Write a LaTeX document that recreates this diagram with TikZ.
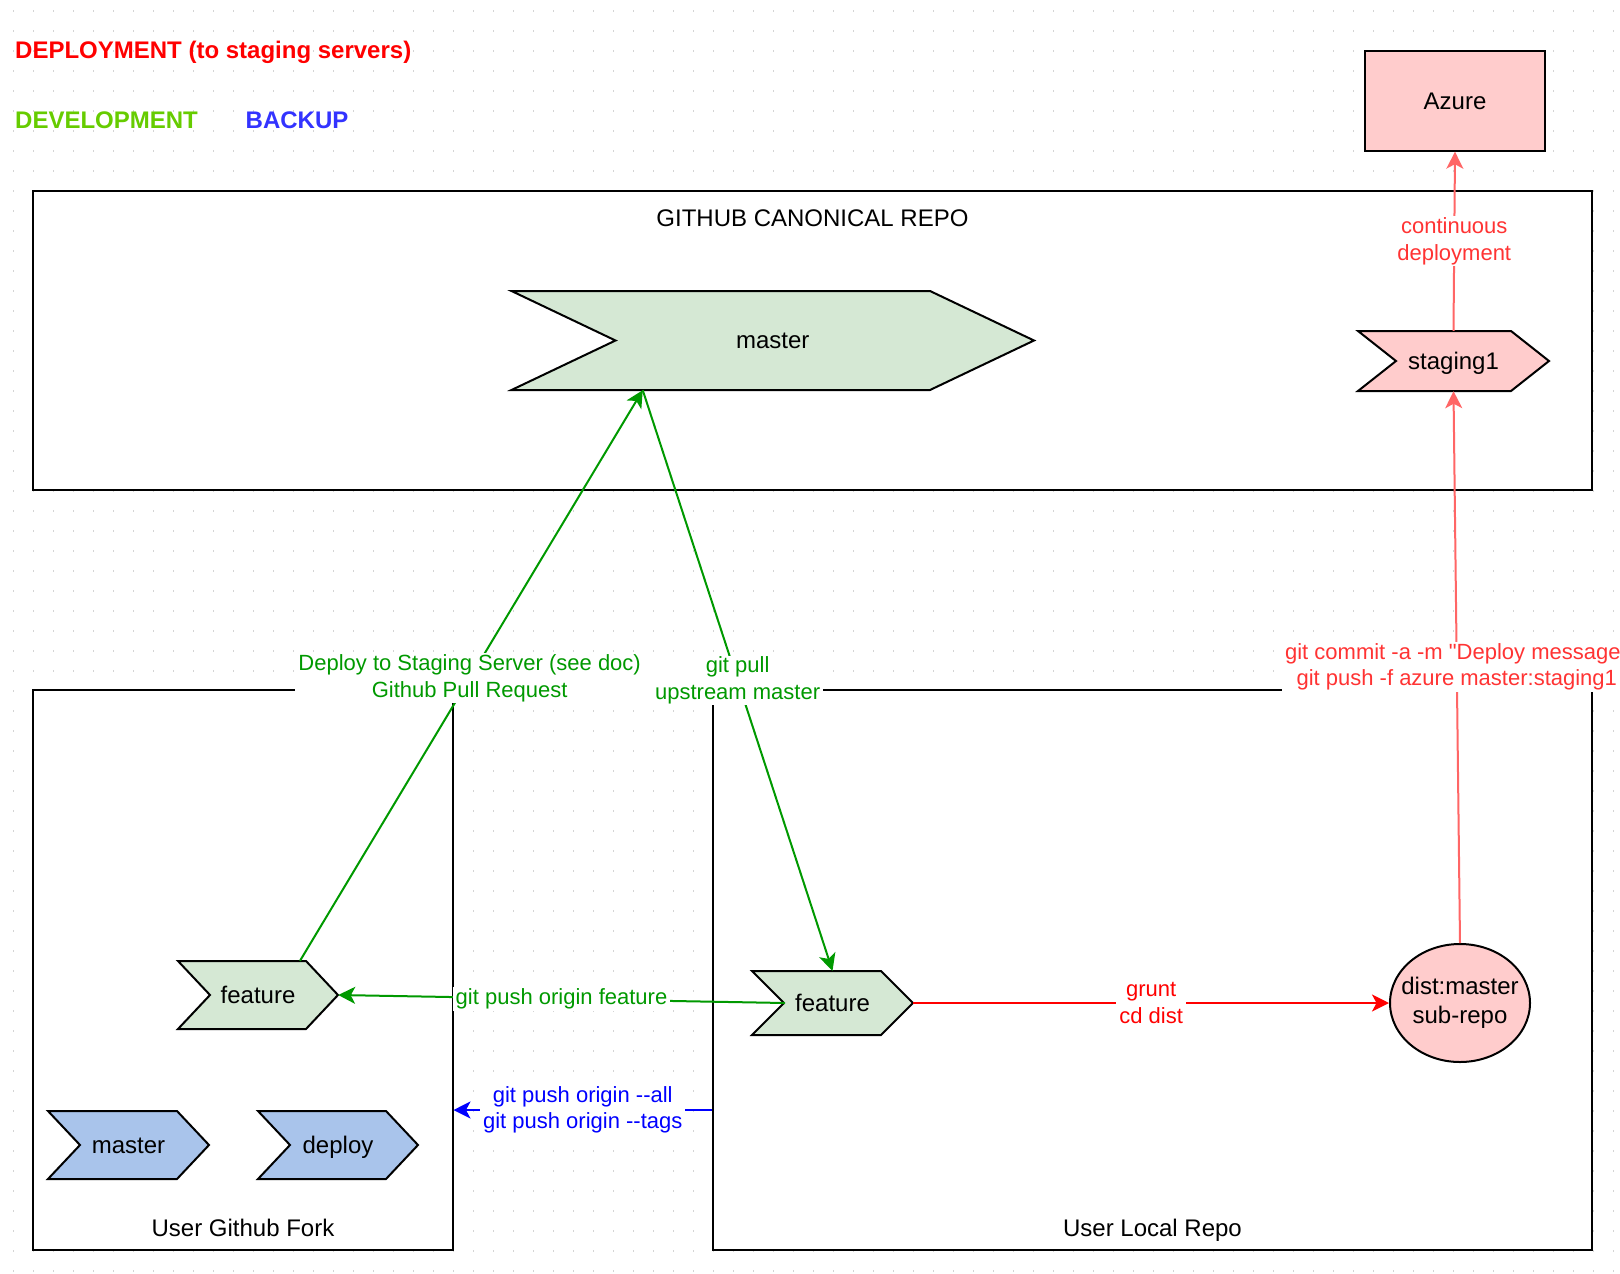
\documentclass[tikz,border=0pt]{standalone}
\usepackage{fontspec}
\setmainfont{Liberation Sans}[Ligatures=TeXOff]
\usetikzlibrary{arrows.meta,shapes.geometric}
\definecolor{legred}{HTML}{FF0000}
\definecolor{devgreen}{HTML}{66CC00}
\definecolor{bkblue}{HTML}{3333FF}
\definecolor{edgegreen}{HTML}{009900}
\definecolor{lightred}{HTML}{FF6666}
\definecolor{labelred}{HTML}{FF3333}
\definecolor{chevgreen}{HTML}{D5E8D4}
\definecolor{pinkfill}{HTML}{FFCCCC}
\definecolor{chevblue}{HTML}{A9C4EB}
\definecolor{griddot}{HTML}{D4D4D4}
\newcommand\mychev[8]{%
  \path[chevshape,fill=#7] (#2,#3) -- ({#4-#6},#3) -- (#4,{(#3+#5)/2}) -- ({#4-#6},#5) -- (#2,#5) -- ({#2+#6},{(#3+#5)/2}) -- cycle;
  \node[chevtext,minimum width={(#4-#2)*1pt},minimum height={(#5-#3)*1pt}] (#1) at ({(#2+#4)/2},{(#3+#5)/2}) {#8};
}
\tikzset{
  x=1pt, y=-1pt,
  bigfont/.style={font=\fontsize{24}{28.8}\selectfont},
  smallfont/.style={font=\fontsize{22}{26.4}\selectfont},
  legend/.style={font=\fontsize{24}{28.8}\selectfont\bfseries, anchor=base west, inner sep=0pt},
  chevshape/.style={draw=black, line width=2pt, line join=miter},
  chevtext/.style={bigfont, inner sep=0pt, text height=21.7pt, text depth=5.1pt},
  repobox/.style={draw=black, fill=white, line width=2pt, inner sep=0pt},
  boxlabel/.style={bigfont, inner sep=0pt, text height=21.7pt, text depth=5.1pt},
  pinkbox/.style={draw=black, fill=pinkfill, line width=2pt, inner sep=0pt, bigfont, text height=21.7pt, text depth=5.1pt},
  pinkell/.style={ellipse, draw=black, fill=pinkfill, line width=2pt, inner xsep=-12pt, inner ysep=0pt, bigfont, align=center},
  tip/.style={-{Stealth[length=17pt,width=17pt,inset=4.5pt]}},
  greenedge/.style={draw=edgegreen, line width=2pt, tip, color=edgegreen},
  rededge/.style={draw=legred, line width=2pt, tip, color=legred},
  lrededge/.style={draw=lightred, line width=2pt, tip, color=lightred},
  blueedge/.style={draw=blue, line width=2pt, tip, color=blue},
  elabel/.style={fill=white, smallfont, align=center, inner xsep=3pt, inner ysep=1.5pt},
  glabel/.style={elabel, text=edgegreen},
  rlabel/.style={elabel, text=legred},
  lrlabel/.style={elabel, text=labelred},
  blabel/.style={elabel, text=blue},
}
\begin{document}
\begin{tikzpicture}
\useasboundingbox (0,0) rectangle (1620,1274);
\fill[white] (0,0) rectangle (1620,1274);
% grid dots
\foreach \i in {0,...,80} {
  \foreach \j in {0,...,63} {
    \fill[griddot] ({13.3+20*\i-0.8},{11+20*\j-0.8}) rectangle +(1.6,1.6);
  }
}
% legend
\node[legend, text=legred] (legdeploy) at (15,58.3) {DEPLOYMENT (to staging servers)};
\node[legend, text=devgreen] (legdev) at (15,128.3) {DEVELOPMENT};
\node[legend, text=bkblue] (legbackup) at (245.5,128.3) {BACKUP};
% repo boxes
\node[repobox, minimum width=1559pt, minimum height=299pt] (canon) at (812.5,340.5) {};
\node[repobox, minimum width=419.5pt, minimum height=560pt] (fork) at (242.75,970) {};
\node[repobox, minimum width=879pt, minimum height=560pt] (local) at (1152.5,970) {};
\node[boxlabel] (canonlbl) at (812.5,218) {GITHUB CANONICAL REPO};
\node[boxlabel] (forklbl) at (243,1228) {User Github Fork};
\node[boxlabel] (locallbl) at (1152.5,1228) {User Local Repo};
% azure
\node[pinkbox, minimum width=180pt, minimum height=100pt] (azure) at (1455,100.7) {Azure};
% chevrons
\mychev{master}{511.5}{291}{1034}{390}{104}{chevgreen}{master}
\mychev{stg}{1358}{331}{1549}{391}{38}{pinkfill}{staging1}
\mychev{ffeat}{178}{961}{338}{1029}{32}{chevgreen}{feature}
\mychev{fmaster}{48}{1111}{209}{1179}{32}{chevblue}{master}
\mychev{fdeploy}{258}{1111}{418}{1179}{32}{chevblue}{deploy}
\mychev{lfeat}{752}{971}{913}{1035}{32}{chevgreen}{feature}
% dist ellipse
\node[pinkell, minimum width=140pt, minimum height=118pt] (dist) at (1460,1003) {dist:master\\sub-repo};
% connectors
\draw[greenedge] ([xshift=42pt]ffeat.north) -- node[glabel,pos=0.495] (lblpr) {Deploy to Staging Server (see doc)\\Github Pull Request} ([xshift=-130pt]master.south);
\draw[greenedge] ([xshift=-130pt]master.south) -- node[glabel,pos=0.5] (lblpull) {git pull\\upstream master} (lfeat.north);
\draw[greenedge] ([xshift=33pt]lfeat.west) -- node[glabel,pos=0.5] (lblpush) {git push origin feature} (ffeat.east);
\draw[rededge] (lfeat.east) -- node[rlabel,pos=0.5] (lblgrunt) {grunt\\cd dist} (dist.west);
\draw[lrededge] (dist.north) -- node[lrlabel,pos=0.5] (lblcommit) {git commit -a -m "Deploy message"\\git push -f azure master:staging1} (stg.south);
\draw[lrededge] (stg.north) -- node[lrlabel,pos=0.5] (lblcd) {continuous\\deployment} (azure.south);
\draw[blueedge] ([yshift=-140pt]local.west) -- node[blabel,pos=0.5] (lblbackup) {git push origin --all\\git push origin --tags} ([yshift=-140pt]fork.east);
\end{tikzpicture}
\end{document}
